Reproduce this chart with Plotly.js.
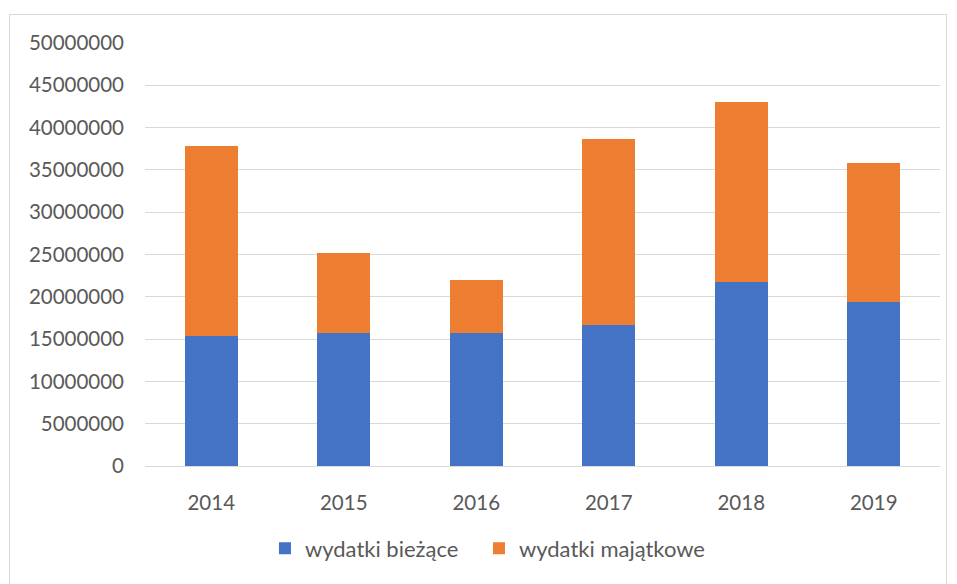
<!DOCTYPE html>
<html>
<head>
<meta charset="utf-8">
<script src="https://cdn.plot.ly/plotly-3.0.1.min.js"></script>
<style>
html,body{margin:0;padding:0;background:#fff;}
#frame{position:absolute;left:9px;top:14px;width:938px;height:575px;border:1px solid #d9d9d9;box-sizing:border-box;}
#chart{position:absolute;left:0;top:0;width:957px;height:584px;}
</style>
</head>
<body>
<div id="frame"></div>
<div id="chart"></div>
<script>
var years = ['2014','2015','2016','2017','2018','2019'];
var wydatkiBiezace = [15400000, 15700000, 15700000, 16700000, 21700000, 19350000];
var wydatkiMajatkowe = [22400000, 9500000, 6250000, 22000000, 21300000, 16500000];
var yTicks = [0,5000000,10000000,15000000,20000000,25000000,30000000,35000000,40000000,45000000,50000000];

var font = {family:'Lato, "Open Sans", sans-serif', size:20.5, color:'#595959'};
var legendFont = {family:'Lato, "Open Sans", sans-serif', size:22, color:'#595959'};

var data = [
  {type:'bar', name:'wydatki bieżące', x:years, y:wydatkiBiezace, marker:{color:'#4472c4'}, legend:'legend'},
  {type:'bar', name:'wydatki majątkowe', x:years, y:wydatkiMajatkowe, marker:{color:'#ed7d31'}, legend:'legend2'}
];
var layout = {
  barmode:'stack',
  bargap:0.6,
  width:957, height:584,
  margin:{l:145, r:17, t:43, b:118, autoexpand:false},
  paper_bgcolor:'rgba(0,0,0,0)',
  plot_bgcolor:'rgba(0,0,0,0)',
  font:font,
  showlegend:true,
  legend:{orientation:'h', x:0.1509, xanchor:'left', y:-0.145, yanchor:'top', font:legendFont, itemwidth:30, bgcolor:'rgba(0,0,0,0)'},
  legend2:{orientation:'h', x:0.4201, xanchor:'left', y:-0.145, yanchor:'top', font:legendFont, itemwidth:30, bgcolor:'rgba(0,0,0,0)'},
  xaxis:{type:'category', showgrid:false, showline:true, linecolor:'#d9d9d9', linewidth:1, ticks:'', ticklabelstandoff:18, tickfont:font, tickangle:0},
  yaxis:{range:[0,50000000], tickvals:yTicks, ticktext:yTicks.map(String), showgrid:true, gridcolor:'#d9d9d9', gridwidth:1, zeroline:false, showline:false, ticks:'', ticklabelstandoff:20, tickfont:font}
};
Plotly.newPlot('chart', data, layout, {displayModeBar:false, staticPlot:true});
</script>
</body>
</html>
